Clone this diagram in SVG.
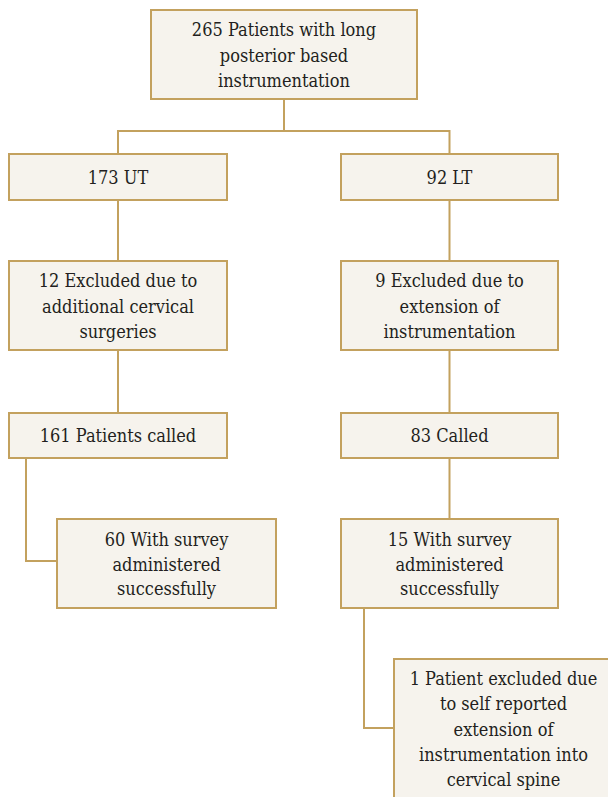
<svg xmlns="http://www.w3.org/2000/svg" width="608" height="797" viewBox="0 0 608 797">
<style>
.box{fill:#f6f3ed;stroke:#c3a15e;stroke-width:2}
.ln{fill:none;stroke:#c3a15e;stroke-width:2}
text{font-family:"DejaVu Serif Condensed","DejaVu Serif",serif;font-stretch:condensed;font-size:18px;fill:#231f20;text-anchor:middle}
</style>
<rect width="608" height="797" fill="#ffffff"/>
<g id="connectors">
<path class="ln" d="M284,99 V131 M118,154 V131 H449.5 V154"/>
<path class="ln" d="M118,200 V261 M449.5,200 V261"/>
<path class="ln" d="M118,350 V413 M449.5,350 V413"/>
<path class="ln" d="M26,458 V561 H57"/>
<path class="ln" d="M449.5,458 V519"/>
<path class="ln" d="M364,608 V728 H394"/>
</g>
<g id="n265">
<rect class="box" x="151" y="10" width="266" height="89"/>
<text x="284" y="36">265 Patients with long</text>
<text x="284" y="62">posterior based</text>
<text x="284" y="87">instrumentation</text>
</g>
<g id="n173">
<rect class="box" x="9" y="154" width="218" height="46"/>
<text x="118" y="184">173 UT</text>
</g>
<g id="n92">
<rect class="box" x="341" y="154" width="217" height="46"/>
<text x="449.5" y="184">92 LT</text>
</g>
<g id="n12">
<rect class="box" x="9" y="261" width="218" height="89"/>
<text x="118" y="287">12 Excluded due to</text>
<text x="118" y="313">additional cervical</text>
<text x="118" y="338">surgeries</text>
</g>
<g id="n9">
<rect class="box" x="341" y="261" width="217" height="89"/>
<text x="449.5" y="287">9 Excluded due to</text>
<text x="449.5" y="313">extension of</text>
<text x="449.5" y="338">instrumentation</text>
</g>
<g id="n161">
<rect class="box" x="9" y="413" width="218" height="45"/>
<text x="118" y="442">161 Patients called</text>
</g>
<g id="n83">
<rect class="box" x="341" y="413" width="217" height="45"/>
<text x="449.5" y="442">83 Called</text>
</g>
<g id="n60">
<rect class="box" x="57" y="519" width="219" height="89"/>
<text x="166.5" y="546">60 With survey</text>
<text x="166.5" y="571">administered</text>
<text x="166.5" y="595">successfully</text>
</g>
<g id="n15">
<rect class="box" x="341" y="519" width="217" height="89"/>
<text x="449.5" y="546">15 With survey</text>
<text x="449.5" y="571">administered</text>
<text x="449.5" y="595">successfully</text>
</g>
<g id="n1">
<rect class="box" x="394" y="659" width="220" height="150"/>
<text x="503.5" y="685">1 Patient excluded due</text>
<text x="503.5" y="710">to self reported</text>
<text x="503.5" y="736">extension of</text>
<text x="503.5" y="761">instrumentation into</text>
<text x="503.5" y="786">cervical spine</text>
</g>
</svg>
